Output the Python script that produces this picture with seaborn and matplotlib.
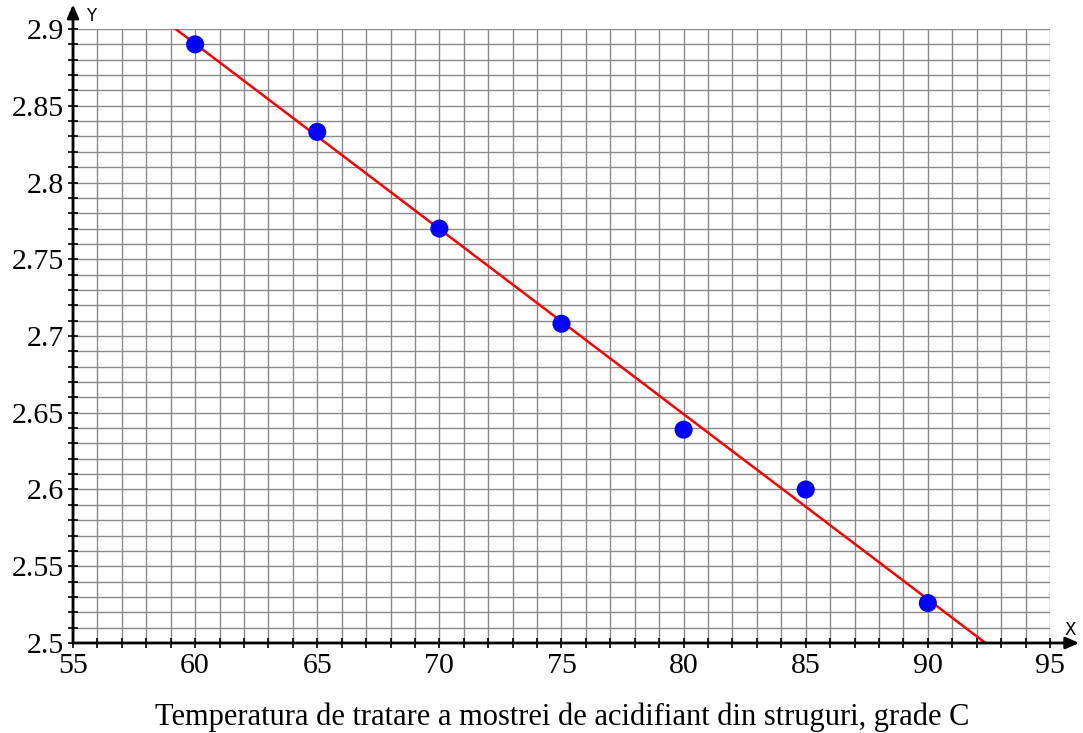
"""Acidity vs treatment temperature, scatter with linear fit."""
import matplotlib
matplotlib.use("Agg")
import matplotlib.pyplot as plt
from matplotlib.ticker import MultipleLocator, FormatStrFormatter
import pandas as pd
import seaborn as sns

# measured points
temperature = [60, 65, 70, 75, 80, 85, 90]
acidity = [2.890, 2.833, 2.770, 2.708, 2.639, 2.600, 2.526]

x_label = "Temperatura de tratare a mostrei de acidifiant din struguri, grade C"
x_lim = (55, 95)
y_lim = (2.5, 2.9)

df = pd.DataFrame({"t": temperature, "a": acidity})

sns.set_style("white")
plt.rcParams["font.family"] = ["Liberation Serif", "DejaVu Serif"]
plt.rcParams["text.color"] = "black"

fig = plt.figure(figsize=(10.83, 7.33), dpi=100)
ax = fig.add_axes([0.0674, 0.1228, 0.9021, 0.8376])
# limits first so the fit line spans the full range
ax.set_xlim(*x_lim)
ax.set_ylim(*y_lim)

sns.regplot(data=df, x="t", y="a", scatter=False, ci=None, truncate=False,
            color="#FF0000", line_kws={"lw": 1.8, "zorder": 3}, ax=ax)
sns.scatterplot(data=df, x="t", y="a", color="#0000FF", s=170,
                edgecolor="none", zorder=4, ax=ax)

ax.set_xlim(*x_lim)
ax.set_ylim(*y_lim)

ax.xaxis.set_major_locator(MultipleLocator(5))
ax.xaxis.set_minor_locator(MultipleLocator(1))
ax.yaxis.set_major_locator(MultipleLocator(0.05))
ax.yaxis.set_minor_locator(MultipleLocator(0.01))
ax.yaxis.set_major_formatter(FormatStrFormatter("%g"))

ax.set_axisbelow(True)
ax.grid(which="both", color="#8a8a8a", lw=1.0)

for s in ax.spines.values():
    s.set_visible(False)

ax.tick_params(which="both", direction="inout", length=7, width=1.2,
               color="black", labelcolor="black", labelsize=21.5,
               bottom=True, left=True)
ax.tick_params(axis="x", pad=4)
ax.tick_params(axis="y", pad=3)

ax.set_xlabel("")
ax.set_ylabel("")
fig.text(0.519, 0.022, x_label, ha="center", va="center", fontsize=22)

# axis lines with arrow heads
arrow = dict(arrowstyle="-|>,head_length=0.8,head_width=0.35", color="black",
             lw=2, shrinkA=0, shrinkB=0)
ax.annotate("", xy=(1.03, 0), xytext=(0, 0), xycoords="axes fraction",
            arrowprops=arrow, annotation_clip=False)
ax.annotate("", xy=(0, 1.04), xytext=(0, 0), xycoords="axes fraction",
            arrowprops=arrow, annotation_clip=False)
ax.text(0.019, 1.022, "Y", transform=ax.transAxes, fontsize=12,
        family="DejaVu Sans", ha="center", va="center")
ax.text(1.021, 0.021, "X", transform=ax.transAxes, fontsize=12,
        family="DejaVu Sans", ha="center", va="center")

fig.savefig("out.png", dpi=100)
